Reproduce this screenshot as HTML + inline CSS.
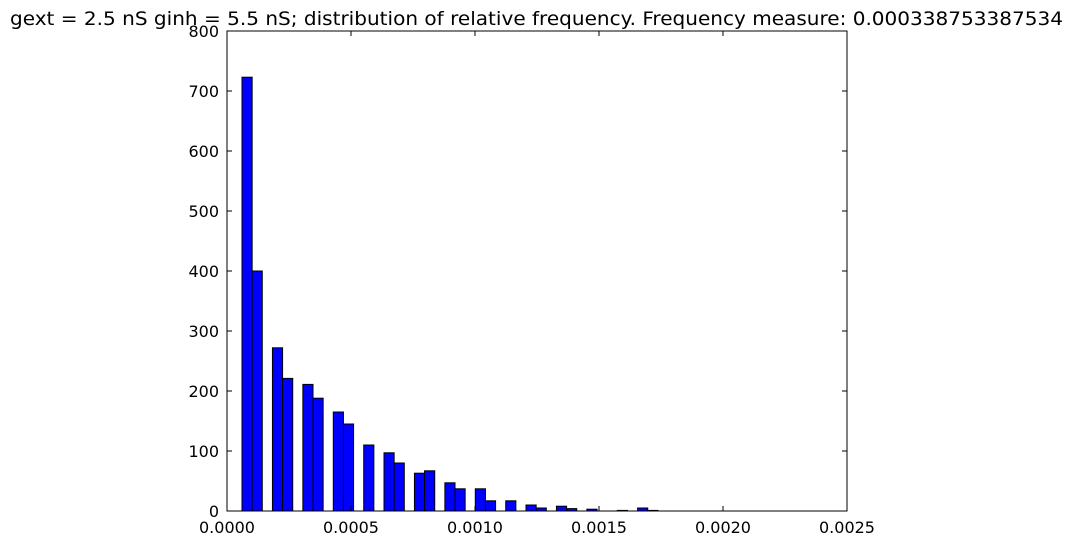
<!DOCTYPE html>
<html><head><meta charset="utf-8"><style>
html,body{margin:0;padding:0;background:#fff;}
svg{display:block;font-family:"DejaVu Sans","Liberation Sans",sans-serif;}
</style></head><body>
<svg id="chart" width="1073" height="545" viewBox="0 0 1073 545" xmlns="http://www.w3.org/2000/svg">
<text x="10" y="25" font-size="19" textLength="1053" lengthAdjust="spacingAndGlyphs">gext = 2.5 nS ginh = 5.5 nS; distribution of relative frequency. Frequency measure: 0.000338753387534</text>
<g id="bars"></g>
<g id="axes"></g>
</svg>
<script>
const counts = [723,400,0,272,221,0,211,188,0,165,145,0,110,0,97,80,0,63,67,0,47,37,0,37,17,0,17,0,10,5,0,8,4,0,3,0,0,1,0,5,1,0,0,0,0,0,0,0,0,0];
const binStart = 0.0000605;
const binWidth = 0.0000409;
const xTicks = [0,0.0005,0.001,0.0015,0.002,0.0025];
const xTickLabels = ["0.0000","0.0005","0.0010","0.0015","0.0020","0.0025"];
const yTicks = [0,100,200,300,400,500,600,700,800];

const L=227,R=847,T=31,B=511;
const xs=v=>L+(v/0.0025)*(R-L);
const ys=v=>B-(v/800)*(B-T);
const NS="http://www.w3.org/2000/svg";
function mk(tag,attrs,parent){const e=document.createElementNS(NS,tag);for(const k in attrs)e.setAttribute(k,attrs[k]);parent.appendChild(e);return e;}
const bars=document.getElementById('bars');
counts.forEach((c,i)=>{
  const x0=xs(binStart+i*binWidth), x1=xs(binStart+(i+1)*binWidth);
  const r=mk('rect',{x:x0,y:ys(c),width:x1-x0,height:B-ys(c),fill:'#0000ff',stroke:'#000','stroke-width':1},bars);
  
  
});
const ax=document.getElementById('axes');
const fr=mk('rect',{x:L,y:T,width:R-L,height:B-T,fill:'none',stroke:'#000','stroke-width':1},ax);


xTicks.forEach((v,i)=>{
  const x=xs(v);
  mk('line',{x1:x,x2:x,y1:B,y2:B-5,stroke:'#000'},ax);
  mk('line',{x1:x,x2:x,y1:T,y2:T+5,stroke:'#000'},ax);
  const t=mk('text',{x:x,y:B+22,'font-size':16,'text-anchor':'middle'},ax);
  t.textContent=xTickLabels[i];
  
  
});
yTicks.forEach(v=>{
  const y=ys(v);
  mk('line',{x1:L,x2:L+5,y1:y,y2:y,stroke:'#000'},ax);
  mk('line',{x1:R,x2:R-5,y1:y,y2:y,stroke:'#000'},ax);
  const t=mk('text',{x:L-8,y:y+6,'font-size':16,'text-anchor':'end'},ax);
  t.textContent=String(v);
  
  
});
</script>
</body></html>
